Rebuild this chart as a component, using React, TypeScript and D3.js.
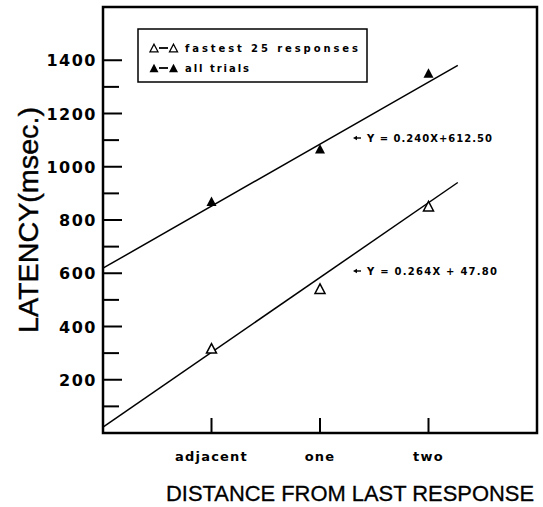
import React from "react";
import * as d3 from "d3";

// distances (category positions on the x axis)
const categories = ["adjacent", "one", "two"];
const allTrials = [870, 1068, 1352];
const fastest25 = [318, 542, 852];
const yTicksMajor = [200, 400, 600, 800, 1000, 1200, 1400];
const yTicksMinor = [100, 300, 500, 700, 900, 1100, 1300];

// fitted lines (value at left edge, rise per category step, end position)
const fitAll = { start: 619, step: 233, end: 3.27, label: "Y = 0.240X+612.50" };
const fitFast = { start: 22, step: 281, end: 3.27, label: "Y = 0.264X + 47.80" };

const W = 543;
const H = 507;
const font = "'DejaVu Sans', sans-serif";
const sans = "'Liberation Sans', Arial, sans-serif";

function tri(cx: number, cy: number, s: number) {
  const h = s * 0.95;
  return `M${cx},${cy - h / 2}L${cx + s / 2},${cy + h / 2}L${cx - s / 2},${cy + h / 2}Z`;
}

export default function App() {
  const x = d3.scaleLinear().domain([0, 4]).range([103, 537]);
  const y = d3.scaleLinear().domain([0, 1600]).range([433, 7]);

  const fitLine = (f: typeof fitAll) =>
    d3.line<number>()
      .x((d) => x(d))
      .y((d) => y(f.start + f.step * d))([0, f.end]) || "";

  const arrow = (ax: number, ay: number) => (
    <g>
      <line x1={ax + 3} y1={ay} x2={ax + 8} y2={ay} stroke="#000" strokeWidth={1.4} />
      <path d={`M${ax},${ay}L${ax + 4},${ay - 2.3}L${ax + 4},${ay + 2.3}Z`} fill="#000" />
    </g>
  );

  return (
    <svg width={W} height={H} style={{ position: "absolute", left: 0, top: 0, background: "#fff" }}>
      {/* frame */}
      <rect x={x(0)} y={y(1600)} width={x(4) - x(0)} height={y(0) - y(1600)}
        fill="none" stroke="#000" strokeWidth={2.5} />

      {/* y ticks */}
      {yTicksMajor.map((t) => (
        <g key={t}>
          <line x1={x(0)} x2={x(0) + 19} y1={y(t)} y2={y(t)} stroke="#000" strokeWidth={2} />
          <text x={97} y={y(t) + 6} textAnchor="end" fontFamily={font} fontWeight="bold"
            fontSize={16} letterSpacing={1.5}>{t}</text>
        </g>
      ))}
      {yTicksMinor.map((t) => (
        <line key={t} x1={x(0)} x2={x(0) + 16} y1={y(t)} y2={y(t)} stroke="#000" strokeWidth={2} />
      ))}

      {/* x ticks */}
      {categories.map((c, i) => (
        <g key={c}>
          <line x1={x(i + 1)} x2={x(i + 1)} y1={y(0)} y2={y(0) - 15} stroke="#000" strokeWidth={2} />
          <text x={x(i + 1)} y={461} textAnchor="middle" fontFamily={font} fontWeight="bold"
            fontSize={13} letterSpacing={1.2}>{c}</text>
        </g>
      ))}

      {/* axis titles */}
      <text transform="translate(38,220) rotate(-90)" textAnchor="middle" fontFamily={sans}
        fontSize={28} stroke="#000" strokeWidth={0.4} textLength={226}
        lengthAdjust="spacingAndGlyphs">LATENCY(msec.)</text>
      <text x={350} y={501} textAnchor="middle" fontFamily={sans}
        fontSize={22} stroke="#000" strokeWidth={0.3} textLength={368}
        lengthAdjust="spacingAndGlyphs">DISTANCE FROM LAST RESPONSE</text>

      {/* fitted lines */}
      <path d={fitLine(fitAll)} fill="none" stroke="#000" strokeWidth={1.5} />
      <path d={fitLine(fitFast)} fill="none" stroke="#000" strokeWidth={1.5} />

      {/* points */}
      {allTrials.map((v, i) => (
        <path key={"a" + i} d={tri(x(i + 1), y(v), 10)} fill="#000" />
      ))}
      {fastest25.map((v, i) => (
        <path key={"f" + i} d={tri(x(i + 1), y(v), 10)} fill="#fff" stroke="#000" strokeWidth={1.5} />
      ))}

      {/* equations */}
      {arrow(353, 138)}
      <text x={367} y={141.5} fontFamily={font} fontWeight="bold" fontSize={10}
        textLength={125} lengthAdjust="spacing">{fitAll.label}</text>
      {arrow(353, 271)}
      <text x={367} y={274.5} fontFamily={font} fontWeight="bold" fontSize={10}
        textLength={130} lengthAdjust="spacing">{fitFast.label}</text>

      {/* legend */}
      <rect x={138} y={29} width={229} height={53} fill="#fff" stroke="#000" strokeWidth={1.5} />
      <path d={tri(154, 48, 8)} fill="#fff" stroke="#000" strokeWidth={1.3} />
      <line x1={159} x2={168} y1={48} y2={48} stroke="#000" strokeWidth={1.8} />
      <path d={tri(173.5, 48, 8)} fill="#fff" stroke="#000" strokeWidth={1.3} />
      <text x={185} y={51.5} fontFamily={font} fontWeight="bold" fontSize={10}
        textLength={173} lengthAdjust="spacing">fastest 25 responses</text>
      <path d={tri(154, 68, 9)} fill="#000" />
      <line x1={159} x2={168} y1={68} y2={68} stroke="#000" strokeWidth={1.8} />
      <path d={tri(173.5, 68, 9)} fill="#000" />
      <text x={185} y={71.5} fontFamily={font} fontWeight="bold" fontSize={10}
        textLength={64} lengthAdjust="spacing">all trials</text>
    </svg>
  );
}
